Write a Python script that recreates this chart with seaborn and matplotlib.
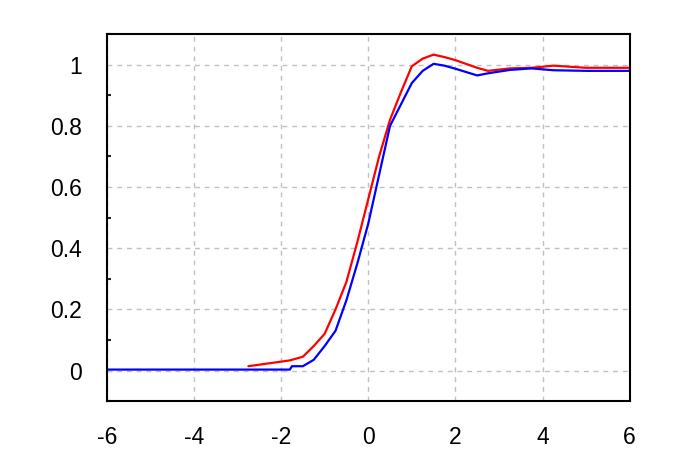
import numpy as np
import pandas as pd
import matplotlib
matplotlib.use("Agg")
import matplotlib.pyplot as plt
import seaborn as sns

# values
x_red = [-2.75, -2.25, -1.8, -1.5, -1.25, -1.0, -0.75, -0.5, -0.25, 0.0, 0.25, 0.5,
         0.75, 1.0, 1.25, 1.5, 1.75, 2.0, 2.5, 2.75, 3.25, 3.75, 4.25, 5.0, 6.0]
y_red = [0.014, 0.024, 0.033, 0.045, 0.08, 0.12, 0.2, 0.29, 0.42, 0.56, 0.70, 0.82,
         0.91, 0.995, 1.02, 1.033, 1.025, 1.015, 0.99, 0.98, 0.988, 0.99, 0.997, 0.99, 0.99]

x_blue = [-6.0, -1.8, -1.75, -1.5, -1.25, -1.0, -0.75, -0.5, -0.25, 0.0, 0.25, 0.5,
          0.75, 1.0, 1.25, 1.5, 1.75, 2.0, 2.5, 2.75, 3.25, 3.75, 4.25, 5.0, 6.0]
y_blue = [0.003, 0.003, 0.014, 0.014, 0.035, 0.08, 0.13, 0.23, 0.35, 0.48, 0.64, 0.80,
          0.87, 0.94, 0.98, 1.003, 0.997, 0.987, 0.965, 0.972, 0.983, 0.988, 0.982, 0.98, 0.98]

x_ticks = [-6, -4, -2, 0, 2, 4, 6]
y_ticks = [0, 0.2, 0.4, 0.6, 0.8, 1]
y_ticklabels = ["0", "0.2", "0.4", "0.6", "0.8", "1"]

sns.set_style("white")
plt.rcParams['font.family'] = ['Liberation Sans', 'DejaVu Sans']

fig = plt.figure(figsize=(6.8, 4.68), dpi=100)
ax = fig.add_axes([0.157, 0.143, 0.769, 0.784])

red = pd.DataFrame({"x": x_red, "y": y_red})
blue = pd.DataFrame({"x": x_blue, "y": y_blue})
sns.lineplot(data=red, x="x", y="y", color="#ff0000", lw=1.6, ax=ax, sort=False)
sns.lineplot(data=blue, x="x", y="y", color="#0000ff", lw=1.6, ax=ax, sort=False)

ax.set_xlim(-6, 6)
ax.set_ylim(-0.1, 1.1)
ax.set_xticks(x_ticks)
ax.set_xticklabels([str(t) for t in x_ticks])
ax.set_yticks(y_ticks)
ax.set_yticklabels(y_ticklabels)
ax.set_yticks(np.arange(-0.1, 1.1, 0.1), minor=True)
ax.set_xlabel("")
ax.set_ylabel("")

ax.grid(True, which="major", color="#c0c0c0", linestyle=(0, (3.5, 3.5)), lw=1.0)
ax.set_axisbelow(True)

for s in ax.spines.values():
    s.set_visible(True)
    s.set_color("black")
    s.set_linewidth(1.5)

ax.tick_params(axis="both", which="major", direction="in", length=4, width=1.5,
               labelsize=16.5, colors="black")
ax.tick_params(axis="y", which="major", pad=18)
ax.tick_params(axis="x", which="major", pad=18)
ax.tick_params(axis="y", which="minor", direction="in", length=3, width=1.5, left=True)

fig.savefig("out.png", dpi=100)
